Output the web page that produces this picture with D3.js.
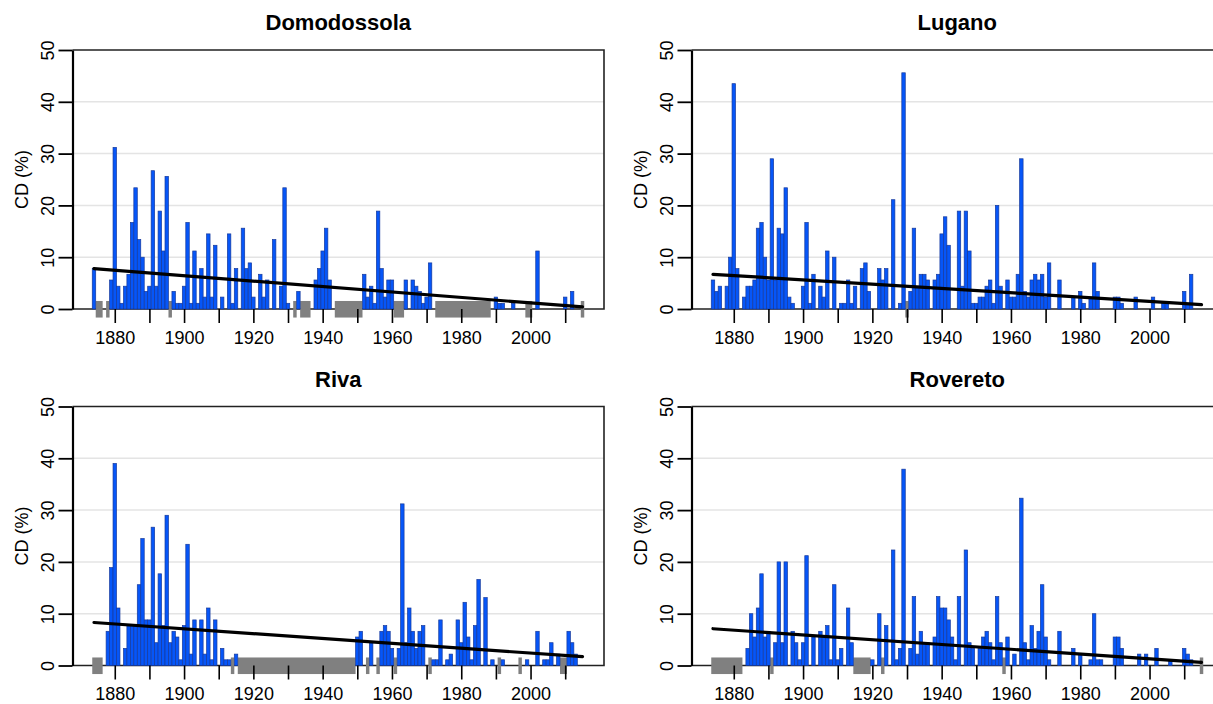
<!DOCTYPE html>
<html>
<head>
<meta charset="utf-8">
<script src="https://cdn.jsdelivr.net/npm/d3@7"></script>
<style>
body { margin: 0; background: #fff; }
text { font-family: "Liberation Sans", Arial, Helvetica, sans-serif; }
</style>
</head>
<body>
<div id="chart"></div>
<script>
// years run 1874..2015, null = missing year (grey block)
var firstYear = 1874;
var lastYear = 2015;
var xTickYears = [1880, 1890, 1900, 1910, 1920, 1930, 1940, 1950, 1960, 1970, 1980, 1990, 2000, 2010];
var xLabelYears = [1880, 1900, 1920, 1940, 1960, 1980, 2000];
var yTicks = [0, 10, 20, 30, 40, 50];
var stations = ["Domodossola", "Lugano", "Riva", "Rovereto"];

var domodossola = [
  7.8, null, null, 0, null, 5.6,
  31.2, 4.4, 1.1, 4.4, 6.7, 16.7, 23.4, 13.4, 10, 3.4,
  4.4, 26.7, 4.4, 18.9, 11.2, 25.6, null, 3.4, 1.1, 1.1,
  4.4, 16.7, 1.1, 11.2, 1.1, 7.8, 2.3, 14.5, 2.3, 12.3,
  0, 2.3, 0, 14.5, 1.1, 7.8, 0, 15.6, 7.8, 8.9,
  2.3, 0, 6.7, 2.3, 5.6, 0, 13.4, 0, 4.4, 23.4,
  1.1, 0, null, 3.4, null, null, null, 0, 5.6, 7.8,
  11.2, 15.6, 5.6, 0, null, null, null, null, null, null,
  null, null, 6.7, 2.3, 4.4, 1.1, 18.9, 7.8, 2.3, 5.6,
  5.6, null, null, null, 5.6, 0, 5.6, 4.4, 3.4, 1.1,
  2.3, 8.9, 0, null, null, null, null, null, null, null,
  null, null, null, null, null, null, null, null, null, 0,
  2.3, 1.1, 1.1, 0, 0, 1.1, 0, 0, 0, null,
  null, 0, 11.2, 0, 0, 0, 0, 0, 0, 0,
  2.3, 0, 3.4, 0, 0, null
];

var lugano = [
  5.6, 3.4, 4.4, 0, 4.4, 10,
  43.5, 7.8, 0, 2.3, 4.4, 4.4, 5.6, 15.6, 16.7, 10,
  5.6, 29, 5.6, 15.6, 14.5, 23.4, 2.3, 1.1, 0, 0,
  4.4, 16.7, 1.1, 6.7, 0, 4.4, 2.3, 11.2, 0, 10,
  0, 1.1, 1.1, 5.6, 1.1, 4.4, 0, 7.8, 8.9, 3.4,
  0, 0, 7.8, 5.6, 7.8, 0, 21.1, 0, 1.1, 45.6,
  null, 3.4, 15.6, 4.4, 6.7, 6.7, 5.6, 0, 5.6, 6.7,
  14.5, 17.8, 12.3, 0, 0, 18.9, 4.4, 18.9, 11.2, 1.1,
  1.1, 2.3, 2.3, 4.4, 5.6, 1.1, 20, 4.4, 0, 5.6,
  2.3, 2.3, 6.7, 29, 3.4, 2.3, 5.6, 6.7, 5.6, 6.7,
  2.3, 8.9, 0, 0, 5.6, 0, 0, 0, 2.3, 0,
  3.4, 1.1, 0, 2.3, 8.9, 3.4, 0, 0, 0, 0,
  2.3, 2.3, 1.1, 0, 0, 0, 2.3, 0, 0, 0,
  0, 2.3, 0, 0, 1.1, 1.1, 0, 0, 0, 0,
  3.4, 1.1, 6.7, 0, 0, 0
];

var riva = [
  null, null, null, 0, 6.6, 18.9,
  39, 11.1, 0, 3.3, 7.7, 7.7, 7.7, 15.6, 24.5, 8.8,
  8.8, 26.7, 4.4, 17.7, 7.7, 29, 4.4, 6.6, 5.5, 1.1,
  7.7, 23.4, 2.2, 8.8, 0, 8.8, 2.2, 11.1, 1.1, 8.8,
  0, 3.3, 1.1, 1.1, null, 2.2, null, null, null, null,
  null, null, null, null, null, null, null, null, null, null,
  null, null, null, null, null, null, null, null, null, null,
  null, null, null, null, null, null, null, null, null, null,
  5.5, 6.6, 0, null, 4.4, 0, null, 6.6, 7.7, 6.6,
  3.3, null, 3.3, 31.2, 4.4, 11.1, 6.6, 3.3, 6.6, 7.7,
  0, null, 1.1, 1.1, 8.8, 0, 1.1, 2.2, 0, 8.8,
  4.4, 12.2, 5.5, 1.1, 7.7, 16.6, 0, 13.1, 0, 1.1,
  0, null, 1.1, 0, 0, 0, 0, null, 0, 1.1,
  0, 0, 6.6, 0, 1.1, 1.1, 4.4, 0, 2.2, null,
  null, 6.6, 4.4, 2.2, 0, 0
];

var rovereto = [
  null, null, null, null, null, null,
  null, null, null, 0, 3.3, 10, 5.5, 11.1, 17.7, 5.5,
  6.6, null, 4.4, 20, 4.4, 20, 0, 6.6, 4.4, 1.1,
  4.4, 21.2, 0, 5.5, 0, 6.6, 5.5, 7.7, 1.1, 15.6,
  1.1, 3.3, 0, 11.1, 4.4, null, null, null, null, null,
  1.1, 0, 10, null, 7.7, 0, 22.3, 1.1, 3.3, 37.9,
  0, 3.3, 13.3, 2.2, 6.6, 4.4, 4.4, 0, 5.5, 13.3,
  11.1, 11.1, 8.8, 5.5, 1.1, 13.3, 0, 22.3, 4.4, 3.3,
  0, 3.3, 5.5, 6.6, 4.4, 1.1, 13.3, 4.4, null, 5.5,
  0, 2.2, 0, 32.3, 4.4, 1.1, 7.7, 3.3, 6.6, 15.6,
  5.5, 1.1, 0, 0, 6.6, 0, 0, 0, 3.3, 0,
  2.2, 0, 0, 1.1, 10, 1.1, 1.1, 0, 0, 0,
  5.5, 5.5, 3.3, 0, 0, 0, 0, 2.2, 0, 2.2,
  0, 0, 3.3, 0, 0, 0, 1.1, 0, 0, 0,
  3.3, 2.2, 1.1, 0, 0, null
];

// trend line values at first and last year
var trendYears = [1874, 2015];
var trendDomodossola = [7.8, 0.4];
var trendLugano = [6.7, 0.85];
var trendRiva = [8.3, 1.7];
var trendRovereto = [7.1, 0.6];

var seriesList = [domodossola, lugano, riva, rovereto];
var trendList = [trendDomodossola, trendLugano, trendRiva, trendRovereto];

var W = 1213, H = 704;
var panelW = 531.5, panelH = 259;
var panelLeft = [72.5, 691.5];
var panelTop = [50, 406.5];

var svg = d3.select("#chart").append("svg")
    .attr("width", W)
    .attr("height", H)
    .style("display", "block");

var years = d3.range(firstYear, lastYear + 1);

var x = d3.scaleLinear().domain([1867.8, 2021.2]).range([0, panelW]);
var y = d3.scaleLinear().domain([0, 50]).range([panelH, 0]);

stations.forEach(function (name, i) {
    var vals = seriesList[i];
    var data = years.map(function (yr, j) { return { year: yr, value: vals[j] }; });
    var g = svg.append("g")
        .attr("transform", "translate(" + panelLeft[i % 2] + "," + panelTop[Math.floor(i / 2)] + ")");

    // consecutive missing years -> one block
    var runs = [];
    data.forEach(function (d) {
        if (d.value !== null) return;
        var last = runs[runs.length - 1];
        if (last && last.end === d.year - 1) last.end = d.year;
        else runs.push({ start: d.year, end: d.year });
    });

    // grid
    g.selectAll("line.grid").data([10, 20, 30, 40]).enter()
        .append("line")
        .attr("class", "grid")
        .attr("x1", 0).attr("x2", panelW)
        .attr("y1", function (d) { return y(d); })
        .attr("y2", function (d) { return y(d); })
        .attr("stroke", "#e4e4e4")
        .attr("stroke-width", 1.5);

    // box (top, right, bottom)
    g.append("path")
        .attr("d", "M0," + y(50) + "H" + panelW + "V" + y(0) + "H0")
        .attr("fill", "none")
        .attr("stroke", "#222")
        .attr("stroke-width", 1.6);

    // missing years
    g.selectAll("rect.miss").data(runs).enter()
        .append("rect")
        .attr("class", "miss")
        .attr("x", function (d) { return x(d.start - 0.5); })
        .attr("width", function (d) { return x(d.end + 0.5) - x(d.start - 0.5); })
        .attr("y", y(1.55))
        .attr("height", y(-1.65) - y(1.55))
        .attr("fill", "#808080");

    // bars
    g.selectAll("rect.bar").data(data.filter(function (d) { return d.value > 0; })).enter()
        .append("rect")
        .attr("class", "bar")
        .attr("x", function (d) { return x(d.year - 0.5); })
        .attr("width", function (d) { return x(d.year + 0.5) - x(d.year - 0.5); })
        .attr("y", function (d) { return y(d.value); })
        .attr("height", function (d) { return y(0) - y(d.value); })
        .attr("fill", "#0656f8")
        .attr("stroke", "#173a9c")
        .attr("stroke-width", 0.7);

    // trend
    var tr = trendList[i];
    g.append("line")
        .attr("x1", x(trendYears[0])).attr("x2", x(trendYears[1]))
        .attr("y1", y(tr[0])).attr("y2", y(tr[1]))
        .attr("stroke", "#000")
        .attr("stroke-width", 3.2)
        .attr("stroke-linecap", "round");

    // y axis
    var yAxis = g.append("g")
        .call(d3.axisLeft(y).tickValues(yTicks).tickSize(14).tickSizeOuter(0));
    yAxis.select(".domain").attr("stroke", "#000").attr("stroke-width", 2.2);
    yAxis.selectAll(".tick line").attr("stroke", "#000").attr("stroke-width", 1.8);
    yAxis.selectAll(".tick text")
        .attr("x", null).attr("dy", null)
        .attr("transform", "translate(-19,0) rotate(-90)")
        .attr("text-anchor", "middle")
        .attr("fill", "#000")
        .style("font-size", "18px");

    // x axis
    var xAxis = g.append("g")
        .attr("transform", "translate(0," + y(0) + ")")
        .call(d3.axisBottom(x).tickValues(xTickYears).tickSize(14).tickPadding(8)
            .tickFormat(function (d) { return xLabelYears.indexOf(d) >= 0 ? d : ""; }));
    xAxis.select(".domain").remove();
    xAxis.selectAll(".tick line").attr("stroke", "#000").attr("stroke-width", 1.6);
    xAxis.selectAll(".tick text").attr("fill", "#000").style("font-size", "18px");

    // y label
    g.append("text")
        .attr("transform", "translate(-45," + (panelH / 2) + ") rotate(-90)")
        .attr("text-anchor", "middle")
        .style("font-size", "18px")
        .text("CD (%)");

    // title
    g.append("text")
        .attr("x", panelW / 2)
        .attr("y", -20)
        .attr("text-anchor", "middle")
        .style("font-size", "22px")
        .style("font-weight", "bold")
        .text(name);
});
</script>
</body>
</html>
